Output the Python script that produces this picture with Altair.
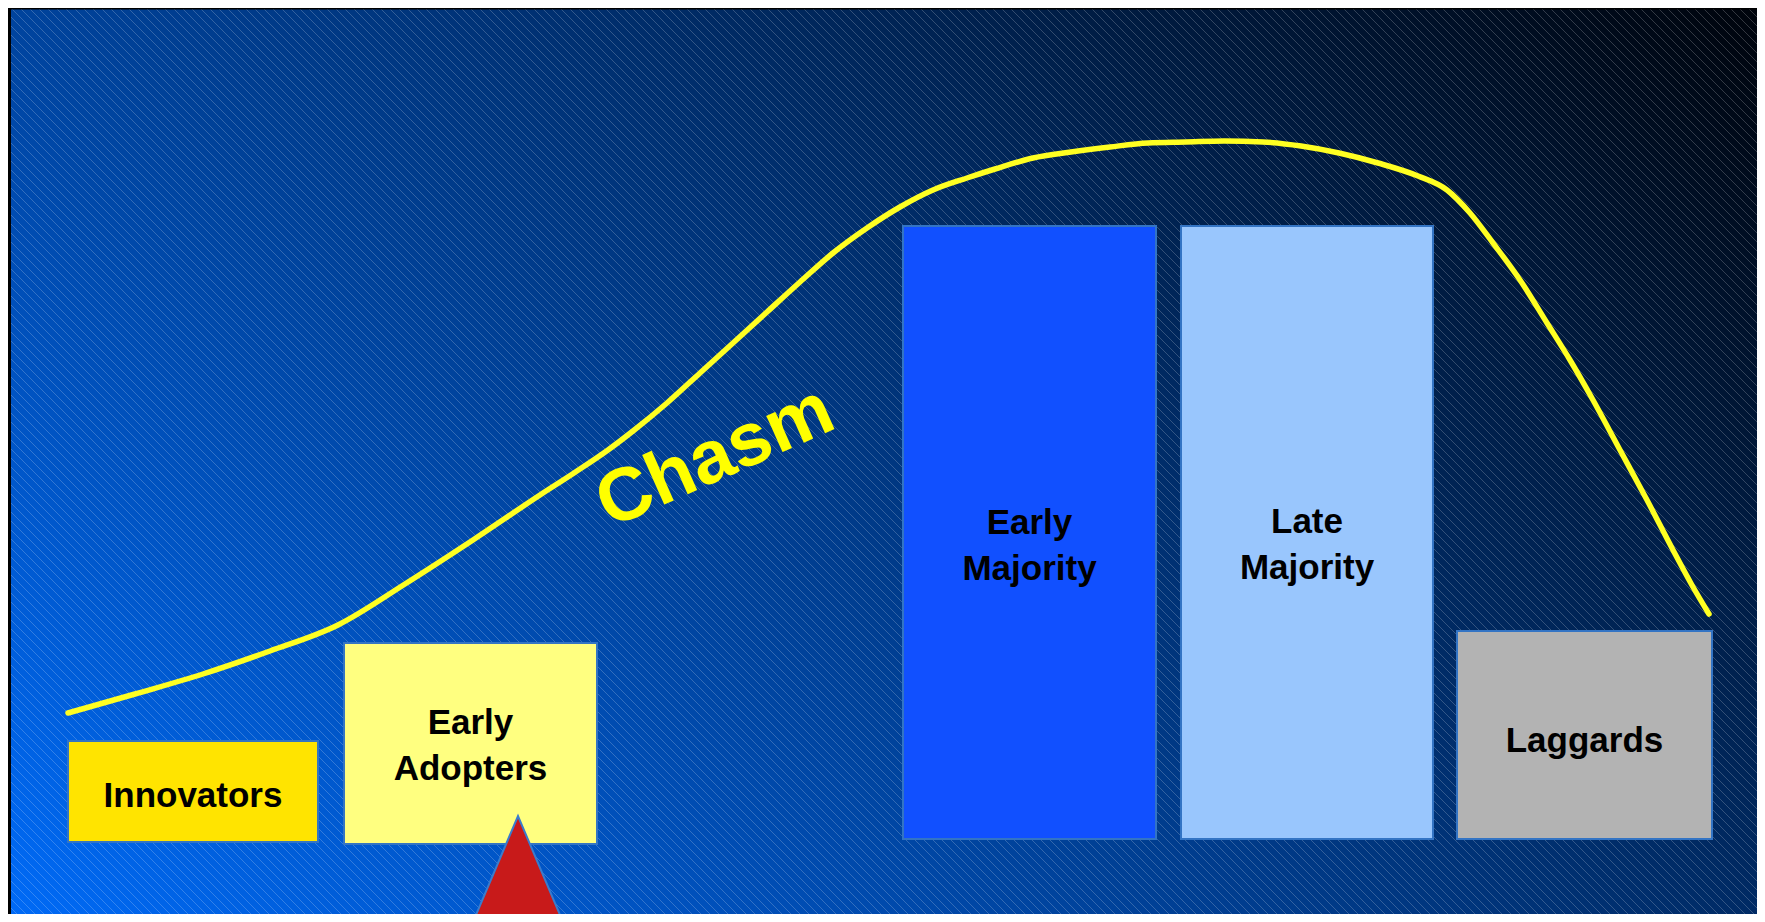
import altair as alt
import pandas as pd

# ---------------- data ----------------
# adoption segments: extent on the adoption axis and height above the common baseline
segments = ["Innovators", "Early Adopters", "Early Majority", "Late Majority", "Laggards"]
seg_labels = ["Innovators", "Early\nAdopters", "Early\nMajority", "Late\nMajority", "Laggards"]
seg_start = [68, 344, 903, 1181, 1457]
seg_end = [318, 597, 1156, 1433, 1712]
seg_top = [98, 196, 613, 613, 208]
seg_bottom = [-3, -5, 0, 0, 0]
seg_label_y = [43, 116, 316, 317, 98]
seg_colors = ["#ffe400", "#ffff80", "#1150ff", "#99c6fd", "#b3b3b3"]

# hand-drawn adoption curve
curve_x = [68, 135, 203, 270, 338, 405, 473, 540, 574, 608, 633, 667, 700,
           733, 767, 800, 833, 867, 900, 933, 967, 995, 1033, 1071, 1110, 1148, 1186,
           1224, 1263, 1301, 1339, 1378, 1418, 1447, 1470, 1493, 1520, 1547, 1570, 1593,
           1620, 1647, 1673, 1693, 1709]
curve_y = [126, 145, 165, 188, 214, 255, 299, 344, 366, 389, 408, 436, 466,
           496, 527, 557, 586, 611, 632, 649, 661, 670, 681, 687, 692, 696, 697,
           698, 697, 693, 686, 676, 663, 649, 626, 596, 559, 516, 479, 439,
           389, 339, 289, 252, 225]

# "Chasm" annotation
chasm_text = ["Chasm"]
chasm_x = [715]
chasm_y = [382]

# red "you are here" marker (apex position on the adoption axis)
marker_x = 518
marker_apex = 23
marker_half_width = 58.6
marker_base = -115

# ---------------- chart ----------------
W, H = 1749, 906
xs = alt.Scale(domain=[8, 1757], nice=False, zero=False)
ys = alt.Scale(domain=[-75, 831], nice=False, zero=False)
FONT = "Liberation Sans, Arial, Helvetica, sans-serif"

bars_df = pd.DataFrame({
    "segment": segments, "label": seg_labels, "start": seg_start, "end": seg_end,
    "top": seg_top, "bottom": seg_bottom, "label_y": seg_label_y,
})
curve_df = pd.DataFrame({"x": curve_x, "y": curve_y})
chasm_df = pd.DataFrame({"t": chasm_text, "x": chasm_x, "y": chasm_y})
marker_df = pd.DataFrame({
    "x": [marker_x - marker_half_width, marker_x, marker_x + marker_half_width],
    "y": [marker_base, marker_apex, marker_base],
    "y2": [marker_base] * 3,
})
one = pd.DataFrame({"a": [0]})

background = alt.Chart(one).mark_rect(
    color=alt.Gradient(
        gradient="linear",
        stops=[alt.GradientStop(color="#006af6", offset=0),
               alt.GradientStop(color="#00040c", offset=1)],
        x1=0, y1=1, x2=1.173, y2=0.284,
    )
).encode(x=alt.value(0), x2=alt.value(W), y=alt.value(0), y2=alt.value(H))

stripes = alt.Chart(alt.sequence(0, 300, as_="k")).transform_calculate(
    x0="8 - 906 + datum.k * 9", x1="8 + datum.k * 9", yt="831", yb="-75"
).mark_rule(clip=True, color="white", opacity=0.2, strokeWidth=1).encode(
    x=alt.X("x0:Q", scale=xs, axis=None),
    x2="x1:Q",
    y=alt.Y("yt:Q", scale=ys, axis=None),
    y2="yb:Q",
)

frame_left = alt.Chart(one).mark_rule(color="black", strokeWidth=3).encode(
    x=alt.value(1.5), y=alt.value(0), y2=alt.value(H))
frame_top = alt.Chart(one).mark_rule(color="black", strokeWidth=1.5).encode(
    x=alt.value(0), x2=alt.value(W), y=alt.value(0.75))

curve = alt.Chart(curve_df).mark_line(
    interpolate="monotone", color="#ffff22", strokeWidth=5.5, strokeCap="round"
).encode(
    x=alt.X("x:Q", scale=xs, axis=None),
    y=alt.Y("y:Q", scale=ys, axis=None),
)

bars = alt.Chart(bars_df).mark_rect(stroke="#3374c4", strokeWidth=2).encode(
    x=alt.X("start:Q", scale=xs, axis=None),
    x2="end:Q",
    y=alt.Y("top:Q", scale=ys, axis=None),
    y2="bottom:Q",
    color=alt.Color("segment:N", scale=alt.Scale(domain=segments, range=seg_colors), legend=None),
)

bar_labels = alt.Chart(bars_df).transform_calculate(
    mid="(datum.start + datum.end) / 2"
).mark_text(
    font=FONT, fontSize=35, fontWeight="bold", color="black",
    align="center", baseline="middle", lineBreak="\n", lineHeight=46,
).encode(
    x=alt.X("mid:Q", scale=xs, axis=None),
    y=alt.Y("label_y:Q", scale=ys, axis=None),
    text="label:N",
)

chasm = alt.Chart(chasm_df).mark_text(
    font=FONT, fontSize=75, fontWeight="bold", color="#ffff00",
    align="center", baseline="middle", angle=336,
).encode(
    x=alt.X("x:Q", scale=xs, axis=None),
    y=alt.Y("y:Q", scale=ys, axis=None),
    text="t:N",
)

marker = alt.Chart(marker_df).mark_area(
    clip=True, color="#c81a1a", stroke="#3a7ccc", strokeWidth=2, interpolate="linear"
).encode(
    x=alt.X("x:Q", scale=xs, axis=None),
    y=alt.Y("y:Q", scale=ys, axis=None),
    y2="y2:Q",
)

chart = alt.layer(
    background, stripes, frame_left, frame_top, curve, bars, bar_labels, chasm, marker
).properties(
    width=W, height=H, padding=0, autosize=alt.AutoSizeParams(type="none")
).configure_view(stroke=None)

chart.save("out.html", embed_options={"renderer": "svg", "actions": False})
